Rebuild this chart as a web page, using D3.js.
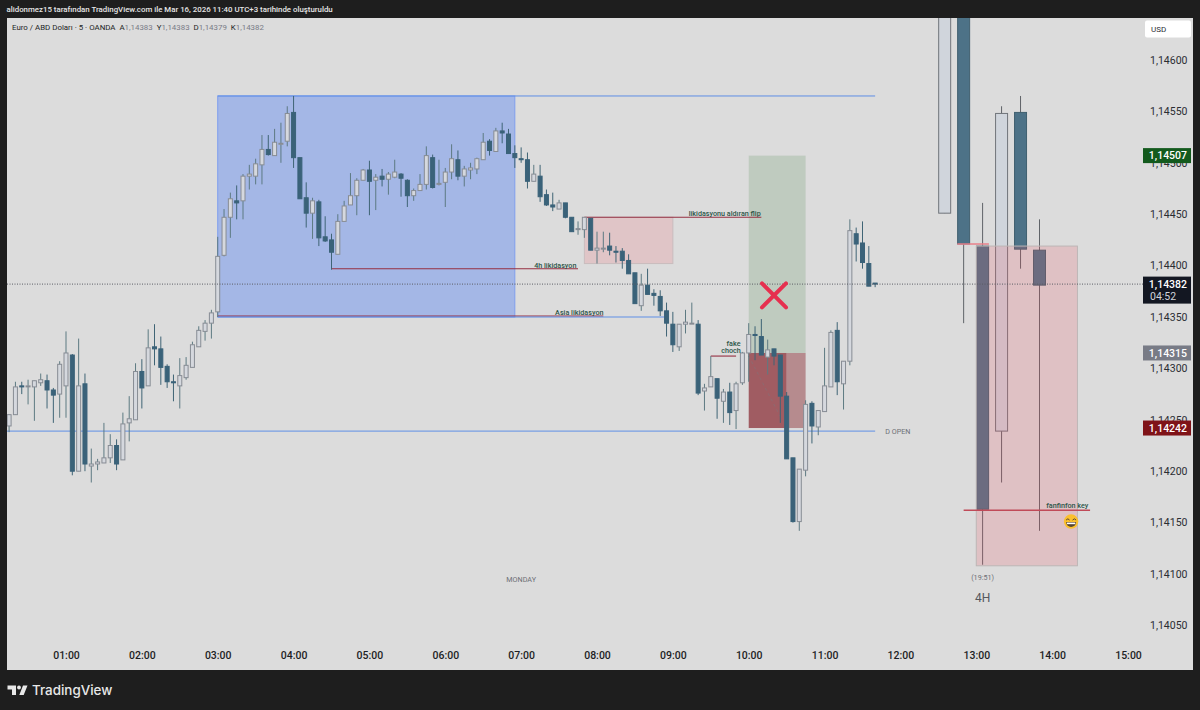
<!DOCTYPE html>
<html>
<head>
<meta charset="utf-8">
<title>EUR/USD 5m</title>
<script src="https://cdn.jsdelivr.net/npm/d3@7"></script>
<style>
  html, body { margin: 0; padding: 0; background: #1e1e1e; }
  svg { display: block; }
  text { font-family: Roboto, "Noto Sans", sans-serif; }
</style>
</head>
<body>
<div id="chart"></div>
<script>
// 5 minute bars
const barTimes = [
  "00:15","00:20","00:25","00:30","00:35","00:40","00:45","00:50","00:55","01:00",
  "01:05","01:10","01:15","01:20","01:25","01:30","01:35","01:40","01:45","01:50",
  "01:55","02:00","02:05","02:10","02:15","02:20","02:25","02:30","02:35","02:40",
  "02:45","02:50","02:55","03:00","03:05","03:10","03:15","03:20","03:25","03:30",
  "03:35","03:40","03:45","03:50","03:55","04:00","04:05","04:10","04:15","04:20",
  "04:25","04:30","04:35","04:40","04:45","04:50","04:55","05:00","05:05","05:10",
  "05:15","05:20","05:25","05:30","05:35","05:40","05:45","05:50","05:55","06:00",
  "06:05","06:10","06:15","06:20","06:25","06:30","06:35","06:40","06:45","06:50",
  "06:55","07:00","07:05","07:10","07:15","07:20","07:25","07:30","07:35","07:40",
  "07:45","07:50","07:55","08:00","08:05","08:10","08:15","08:20","08:25","08:30",
  "08:35","08:40","08:45","08:50","08:55","09:00","09:05","09:10","09:15","09:20",
  "09:25","09:30","09:35","09:40","09:45","09:50","09:55","10:00","10:05","10:10",
  "10:15","10:20","10:25","10:30","10:35","10:40","10:45","10:50","10:55","11:00",
  "11:05","11:10","11:15","11:20","11:25","11:30","11:35","11:40"
];
const opens = [
  1.14244,1.14255,1.14283,1.14283,1.14282,1.14286,1.14288,1.14279,1.14275,1.14283,
  1.14313,1.14200,1.14285,1.14205,1.14207,1.14208,1.14213,1.14225,1.14211,1.14247,
  1.14250,1.14297,1.14283,1.14321,1.14319,1.14302,1.14287,1.14283,1.14291,1.14301,
  1.14321,1.14336,1.14344,1.14355,1.14410,1.14447,1.14463,1.14463,1.14487,1.14487,
  1.14498,1.14513,1.14507,1.14519,1.14521,1.14549,1.14505,1.14466,1.14451,1.14462,
  1.14428,1.14425,1.14411,1.14443,1.14459,1.14468,1.14483,1.14493,1.14483,1.14487,
  1.14484,1.14486,1.14489,1.14483,1.14468,1.14473,1.14479,1.14505,1.14479,1.14481,
  1.14491,1.14503,1.14487,1.14493,1.14494,1.14503,1.14521,1.14511,1.14531,1.14528,
  1.14509,1.14504,1.14503,1.14482,1.14487,1.14469,1.14459,1.14455,1.14461,1.14447,
  1.14435,1.14435,1.14446,1.14415,1.14416,1.14419,1.14414,1.14414,1.14405,1.14393,
  1.14361,1.14381,1.14373,1.14370,1.14356,1.14343,1.14321,1.14343,1.14344,1.14343,
  1.14278,1.14282,1.14290,1.14268,1.14277,1.14259,1.14286,1.14315,1.14333,1.14331,
  1.14311,1.14319,1.14313,1.14273,1.14213,1.14151,1.14201,1.14266,1.14243,1.14258,
  1.14282,1.14337,1.14285,1.14307,1.14431,1.14422,1.14402,1.14383
];
const highs = [
  1.14255,1.14287,1.14287,1.14289,1.14288,1.14295,1.14294,1.14281,1.14307,1.14336,
  1.14314,1.14329,1.14295,1.14222,1.14212,1.14247,1.14236,1.14231,1.14257,1.14273,
  1.14305,1.14309,1.14338,1.14343,1.14331,1.14304,1.14294,1.14310,1.14311,1.14326,
  1.14341,1.14347,1.14357,1.14428,1.14455,1.14471,1.14478,1.14489,1.14498,1.14504,
  1.14527,1.14527,1.14533,1.14539,1.14555,1.14565,1.14505,1.14481,1.14466,1.14464,
  1.14448,1.14431,1.14450,1.14463,1.14490,1.14485,1.14494,1.14502,1.14489,1.14494,
  1.14491,1.14503,1.14490,1.14484,1.14475,1.14489,1.14516,1.14508,1.14503,1.14495,
  1.14518,1.14512,1.14497,1.14500,1.14505,1.14529,1.14523,1.14534,1.14539,1.14533,
  1.14517,1.14515,1.14510,1.14498,1.14498,1.14474,1.14471,1.14464,1.14461,1.14447,
  1.14443,1.14447,1.14446,1.14433,1.14433,1.14432,1.14419,1.14417,1.14411,1.14393,
  1.14392,1.14397,1.14377,1.14376,1.14364,1.14355,1.14343,1.14357,1.14364,1.14347,
  1.14285,1.14312,1.14290,1.14280,1.14286,1.14287,1.14316,1.14344,1.14341,1.14348,
  1.14328,1.14319,1.14313,1.14277,1.14213,1.14202,1.14269,1.14268,1.14259,1.14320,
  1.14337,1.14345,1.14307,1.14445,1.14437,1.14443,1.14419,1.14383
];
const lows = [
  1.14238,1.14255,1.14275,1.14265,1.14249,1.14283,1.14261,1.14247,1.14252,1.14252,
  1.14196,1.14200,1.14200,1.14189,1.14201,1.14208,1.14208,1.14201,1.14211,1.14229,
  1.14250,1.14261,1.14283,1.14303,1.14284,1.14281,1.14268,1.14261,1.14289,1.14301,
  1.14321,1.14327,1.14329,1.14350,1.14409,1.14427,1.14445,1.14445,1.14474,1.14479,
  1.14479,1.14507,1.14507,1.14500,1.14516,1.14495,1.14465,1.14437,1.14426,1.14419,
  1.14423,1.14396,1.14411,1.14443,1.14459,1.14449,1.14483,1.14449,1.14454,1.14477,
  1.14469,1.14485,1.14467,1.14457,1.14463,1.14473,1.14474,1.14475,1.14478,1.14457,
  1.14484,1.14483,1.14477,1.14484,1.14489,1.14503,1.14507,1.14511,1.14519,1.14509,
  1.14495,1.14500,1.14475,1.14482,1.14462,1.14458,1.14453,1.14455,1.14446,1.14433,
  1.14430,1.14427,1.14415,1.14402,1.14413,1.14410,1.14403,1.14397,1.14392,1.14363,
  1.14356,1.14372,1.14361,1.14351,1.14331,1.14316,1.14317,1.14334,1.14344,1.14274,
  1.14259,1.14282,1.14251,1.14247,1.14245,1.14241,1.14284,1.14287,1.14308,1.14313,
  1.14294,1.14303,1.14247,1.14212,1.14150,1.14142,1.14195,1.14227,1.14235,1.14258,
  1.14282,1.14274,1.14260,1.14303,1.14404,1.14397,1.14380,1.14379
];
const closes = [
  1.14255,1.14282,1.14282,1.14283,1.14288,1.14289,1.14279,1.14274,1.14304,1.14315,
  1.14200,1.14283,1.14207,1.14207,1.14209,1.14213,1.14225,1.14207,1.14246,1.14251,
  1.14297,1.14281,1.14320,1.14319,1.14301,1.14287,1.14286,1.14293,1.14303,1.14323,
  1.14337,1.14344,1.14354,1.14409,1.14447,1.14465,1.14461,1.14487,1.14489,1.14499,
  1.14513,1.14508,1.14520,1.14519,1.14548,1.14505,1.14465,1.14451,1.14463,1.14427,
  1.14424,1.14413,1.14443,1.14458,1.14468,1.14483,1.14493,1.14482,1.14486,1.14484,
  1.14489,1.14491,1.14485,1.14468,1.14473,1.14479,1.14507,1.14476,1.14480,1.14491,
  1.14504,1.14487,1.14494,1.14495,1.14504,1.14520,1.14512,1.14531,1.14529,1.14509,
  1.14505,1.14503,1.14482,1.14489,1.14467,1.14459,1.14457,1.14461,1.14447,1.14433,
  1.14436,1.14447,1.14415,1.14417,1.14417,1.14415,1.14413,1.14405,1.14392,1.14363,
  1.14381,1.14372,1.14371,1.14356,1.14344,1.14323,1.14343,1.14345,1.14344,1.14276,
  1.14281,1.14292,1.14271,1.14277,1.14257,1.14285,1.14315,1.14333,1.14332,1.14313,
  1.14318,1.14312,1.14273,1.14212,1.14151,1.14202,1.14265,1.14244,1.14259,1.14283,
  1.14335,1.14287,1.14307,1.14434,1.14421,1.14403,1.14380,1.14382
];

// the pasted 4H candles on the right (tops of the first two run off the chart)
const h4Times = ["12:35","12:50","13:05","13:20","13:35","13:50"];
const h4Opens = [1.14451,1.14800,1.14419,1.14239,1.14549,1.14415];
const h4Highs = [1.14800,1.14800,1.14461,1.14555,1.14565,1.14445];
const h4Lows = [1.14451,1.14344,1.14109,1.14189,1.14397,1.14142];
const h4Closes = [1.14800,1.14421,1.14163,1.14548,1.14416,1.14381];

// axes
const hourTicks = ["01:00","02:00","03:00","04:00","05:00","06:00","07:00","08:00","09:00","10:00","11:00","12:00","13:00","14:00","15:00"];
const priceTicks = [1.14600,1.14550,1.14500,1.14450,1.14400,1.14350,1.14300,1.14250,1.14200,1.14150,1.14100,1.14050];

// drawings, as [start, end, price] or [start, end, top, bottom]
const redLines = [
  ["03:00","08:05",1.14351],["04:30","07:45",1.14397],["07:50","10:10",1.14447],
  ["09:30","09:50",1.14312]
];
const blueLines = [["03:00","11:40",1.14565],["00:00","11:40",1.14239],["03:00","08:53",1.14350]];
const boxes = [
  { t0: "03:00", t1: "06:55", top: 1.14565, bottom: 1.14350, fill: "#a4b7e6", stroke: "#7f9eee" },
  { t0: "07:50", t1: "09:00", top: 1.14447, bottom: 1.14402, fill: "#e0c5c7", stroke: "#c9bdbe" },
  { t0: "10:00", t1: "10:45", top: 1.14507, bottom: 1.14315, fill: "#bfcbbf", stroke: "none" },
  { t0: "10:30", t1: "10:45", top: 1.14315, bottom: 1.14242, fill: "#b68b8e", stroke: "none" },
  { t0: "10:00", t1: "10:30", top: 1.14315, bottom: 1.14242, fill: "#a05c62", stroke: "none" }
];
const chartLabels = [
  ["likidasyonu aldıran flip","09:41",1.14451,"#2c5548","middle"],
  ["4h likidasyon","07:27",1.14400,"#2c5548","middle"],
  ["Asia likidasyon","07:46",1.14354,"#2c5548","middle"],
  ["fake","09:48",1.14324,"#2c5548","middle"],
  ["choch","09:46",1.14317,"#2c5548","middle"],
  ["fanfinfon key","14:12",1.14167,"#2c5548","middle"],
  ["D OPEN","11:48",1.14239,"#6d6f76","start"],
  ["MONDAY","07:00",1.14095,"#6d6f76","middle"],
  ["(19:51)","13:05",1.14097,"#6d6f76","middle"]
];
const priceTags = [
  ["1,14507",1.14507,"#135a1d"],
  ["1,14315",1.14315,"#787b86"],
  ["1,14242",1.14242,"#7f1318"]
];
const lastPrice = 1.14382;

const width = 1200, height = 710;
const plot = { left: 7, right: 1193, top: 18, bottom: 670, axisX: 1143 };
const parseT = d3.utcParse("%H:%M");
const x = d3.scaleUtc().domain([parseT("01:00"), parseT("15:00")]).range([66, 1128]);
const y = d3.scaleLinear().domain([1.141, 1.146]).range([574, 60]);
const xt = (s) => x(parseT(s));

const svg = d3.select("#chart").append("svg").attr("width", width).attr("height", height);
svg.append("defs").append("clipPath").attr("id", "plot-clip")
  .append("rect")
  .attr("x", plot.left).attr("y", plot.top)
  .attr("width", plot.right - plot.left).attr("height", plot.bottom - plot.top);

svg.append("rect").attr("x", plot.left).attr("y", plot.top)
  .attr("width", plot.right - plot.left).attr("height", plot.bottom - plot.top)
  .attr("fill", "#dcdcdc");

const g = svg.append("g").attr("clip-path", "url(#plot-clip)");

// zones sit behind the 5m candles
g.selectAll("rect.box").data(boxes).join("rect")
  .attr("class", "box")
  .attr("x", (d) => xt(d.t0))
  .attr("y", (d) => y(d.top))
  .attr("width", (d) => xt(d.t1) - xt(d.t0))
  .attr("height", (d) => y(d.bottom) - y(d.top))
  .attr("fill", (d) => d.fill)
  .attr("stroke", (d) => d.stroke);

// dashed diagonal inside the stop zone
g.append("line")
  .attr("x1", xt("10:00")).attr("y1", y(1.14312))
  .attr("x2", xt("10:25")).attr("y2", y(1.14253))
  .attr("stroke", "#8e6a70").attr("stroke-dasharray", "3 3");

g.selectAll("line.red").data(redLines).join("line")
  .attr("class", "red")
  .attr("x1", (d) => xt(d[0])).attr("x2", (d) => xt(d[1]))
  .attr("y1", (d) => y(d[2])).attr("y2", (d) => y(d[2]))
  .attr("stroke", "#962f42").attr("stroke-width", 1.1);

g.selectAll("line.blue").data(blueLines).join("line")
  .attr("class", "blue")
  .attr("x1", (d) => xt(d[0])).attr("x2", (d) => xt(d[1]))
  .attr("y1", (d) => y(d[2])).attr("y2", (d) => y(d[2]))
  .attr("stroke", "#5f8fe6").attr("stroke-width", 1);

function drawCandles(parent, bars, bodyW, upFill, upStroke, downFill, downStroke, upWick, downWick) {
  const c = parent.selectAll("g.c").data(bars).join("g").attr("class", "c");
  c.append("line")
    .attr("x1", (d) => xt(d.t)).attr("x2", (d) => xt(d.t))
    .attr("y1", (d) => y(d.h)).attr("y2", (d) => y(d.l))
    .attr("stroke", (d) => (d.c >= d.o ? upWick : downWick));
  c.append("rect")
    .attr("x", (d) => xt(d.t) - bodyW / 2)
    .attr("width", bodyW)
    .attr("y", (d) => y(Math.max(d.o, d.c)))
    .attr("height", (d) => Math.max(1, Math.abs(y(d.o) - y(d.c))))
    .attr("fill", (d) => (d.c >= d.o ? upFill : downFill))
    .attr("stroke", (d) => (d.c >= d.o ? upStroke : downStroke));
}

// 4H candles go under the translucent short box
const h4Bars = h4Times.map((t, i) => ({ t, o: h4Opens[i], h: h4Highs[i], l: h4Lows[i], c: h4Closes[i] }));
drawCandles(g.append("g"), h4Bars, 12, "#d0d5dc", "#70747a", "#4d7287", "#40606f", "#5f6368", "#5f6368");

g.append("rect")
  .attr("x", xt("13:00")).attr("y", y(1.14419))
  .attr("width", xt("14:20") - xt("13:00")).attr("height", y(1.14108) - y(1.14419))
  .attr("fill", "#eb5564").attr("fill-opacity", 0.2)
  .attr("stroke", "#bdb6b6");

// pink edge under the 4H candle and the key line on top of the box
g.append("line")
  .attr("x1", xt("12:45")).attr("x2", xt("13:10"))
  .attr("y1", y(1.14421)).attr("y2", y(1.14421))
  .attr("stroke", "#e8808a").attr("stroke-width", 1.5);
g.append("line")
  .attr("x1", xt("12:50")).attr("x2", xt("14:30"))
  .attr("y1", y(1.14162)).attr("y2", y(1.14162))
  .attr("stroke", "#c04a58").attr("stroke-width", 1.5);

const bars = barTimes.map((t, i) => ({ t, o: opens[i], h: highs[i], l: lows[i], c: closes[i] }));
drawCandles(g.append("g"), bars, 4, "#d5d8de", "#878c94", "#3a6279", "#3a6279", "#5d7a82", "#3f6475");

// last price dotted line
svg.append("line")
  .attr("x1", plot.left).attr("x2", plot.axisX)
  .attr("y1", y(lastPrice)).attr("y2", y(lastPrice))
  .attr("stroke", "#5a5d63").attr("stroke-dasharray", "1 1.5");

// big X
const mark = { t: "10:20", p: 1.14371, r: 12 };
const cross = svg.append("g").attr("transform", `translate(${xt(mark.t)},${y(mark.p)})`)
  .attr("stroke", "#e6304f").attr("stroke-width", 4).attr("stroke-linecap", "round");
cross.append("line").attr("x1", -mark.r).attr("y1", -mark.r).attr("x2", mark.r).attr("y2", mark.r);
cross.append("line").attr("x1", -mark.r).attr("y1", mark.r).attr("x2", mark.r).attr("y2", -mark.r);

svg.selectAll("text.lab").data(chartLabels).join("text")
  .attr("class", "lab")
  .attr("x", (d) => xt(d[1])).attr("y", (d) => y(d[2]))
  .attr("dy", "0.35em")
  .attr("text-anchor", (d) => d[4])
  .attr("fill", (d) => d[3])
  .attr("font-size", 7.2)
  .attr("font-weight", (d) => (d[3] === "#2c5548" ? 500 : 400))
  .text((d) => d[0]);

svg.append("text").attr("x", xt("13:05")).attr("y", y(1.14077)).attr("dy", "0.35em")
  .attr("text-anchor", "middle").attr("fill", "#55585e").attr("font-size", 12).text("4H");

// smiley
const face = svg.append("g").attr("transform", `translate(${xt("14:15")},${y(1.14151)})`);
face.append("circle").attr("r", 7.2).attr("fill", "#fbc02d");
face.append("path").attr("d", "M-5 0.5H5A5 5 0 0 1 -5 0.5Z").attr("fill", "#5a4632");
face.append("path").attr("d", "M-4.2 1H4.2V2.6H-4.2Z").attr("fill", "#ffffff");
face.append("path").attr("d", "M-5 -1.5Q-3.2 -4 -1.5 -1.5M1.5 -1.5Q3.2 -4 5 -1.5")
  .attr("fill", "none").attr("stroke", "#5a4632").attr("stroke-width", 1);

// price axis
const yAxis = d3.axisRight(y).tickValues(priceTicks).tickSize(0).tickPadding(0)
  .tickFormat((d) => d.toFixed(5).replace(".", ","));
svg.append("g").attr("transform", "translate(1150,0)").call(yAxis)
  .call((a) => a.select(".domain").remove())
  .selectAll("text").attr("fill", "#2b2d33").attr("font-size", 10.5)
  .style("font-family", "Roboto");

// time axis
const xAxis = d3.axisBottom(x).tickValues(hourTicks.map(parseT)).tickSize(0).tickPadding(0)
  .tickFormat(d3.utcFormat("%H:%M"));
svg.append("g").attr("transform", "translate(0,652)").call(xAxis)
  .call((a) => a.select(".domain").remove())
  .selectAll("text").attr("fill", "#1c1e24").attr("font-size", 10.5).attr("font-weight", 500)
  .style("font-family", "Roboto");

// price tags
const tagX = 1143, tagW = 48, tagH = 15;
const tags = svg.selectAll("g.tag").data(priceTags).join("g").attr("class", "tag")
  .attr("transform", (d) => `translate(${tagX},${y(d[1]) - tagH / 2})`);
tags.append("rect").attr("width", tagW).attr("height", tagH).attr("fill", (d) => d[2]);
tags.append("text").attr("x", tagW - 4).attr("y", tagH / 2).attr("dy", "0.35em")
  .attr("text-anchor", "end").attr("fill", "#fff").attr("font-size", 10.5).attr("font-weight", 500)
  .text((d) => d[0]);

const lastTag = svg.append("g").attr("transform", `translate(${tagX},${y(lastPrice) - 7.5})`);
lastTag.append("rect").attr("width", tagW).attr("height", 27).attr("fill", "#131722");
lastTag.append("text").attr("x", tagW - 4).attr("y", 7.5).attr("dy", "0.35em")
  .attr("text-anchor", "end").attr("fill", "#fff").attr("font-size", 10.5).attr("font-weight", 500).text("1,14382");
lastTag.append("text").attr("x", 7).attr("y", 20).attr("dy", "0.35em")
  .attr("fill", "#d1d4dc").attr("font-size", 10.5).text("04:52");

// currency button
svg.append("rect").attr("x", 1145).attr("y", 20.5).attr("width", 46).attr("height", 17).attr("rx", 2).attr("fill", "#fff");
svg.append("text").attr("x", 1151).attr("y", 29).attr("dy", "0.35em").attr("fill", "#2b2d33").attr("font-size", 8).text("USD");

// header, legend and footer
svg.append("text").attr("x", 6.5).attr("y", 9.5).attr("dy", "0.35em")
  .attr("fill", "#e6e6e6").attr("font-size", 7.85).attr("font-weight", 500)
  .text("alidonmez15 tarafından TradingView.com ile Mar 16, 2026 11:40 UTC+3 tarihinde oluşturuldu");

const legendParts = [
  ["Euro / ABD Doları · 5 · OANDA  ", "#1c1e24"],
  ["A", "#1c1e24"], ["1,14383  ", "#787b86"],
  ["Y", "#1c1e24"], ["1,14383  ", "#787b86"],
  ["D", "#1c1e24"], ["1,14379  ", "#787b86"],
  ["K", "#1c1e24"], ["1,14382", "#787b86"]
];
svg.append("text").attr("x", 12).attr("y", 27).attr("dy", "0.35em")
  .attr("font-size", 7.9).attr("xml:space", "preserve").style("white-space", "pre")
  .selectAll("tspan").data(legendParts).join("tspan")
  .attr("fill", (d) => d[1]).text((d) => d[0]);

svg.append("path").attr("d", "M7.5 685.5h8.5v9.5h-4v-5.5h-4.5z M23 685.5h4.5l-3.8 9.5h-4.4z").attr("fill", "#e8e8e8");
svg.append("circle").attr("cx", 19).attr("cy", 687.5).attr("r", 1.9).attr("fill", "#e8e8e8");
svg.append("text").attr("x", 32).attr("y", 690.5).attr("dy", "0.35em")
  .attr("fill", "#e8e8e8").attr("font-size", 13.4).attr("font-weight", 500)
  .style("font-family", "Inter").text("TradingView");
</script>
</body>
</html>
